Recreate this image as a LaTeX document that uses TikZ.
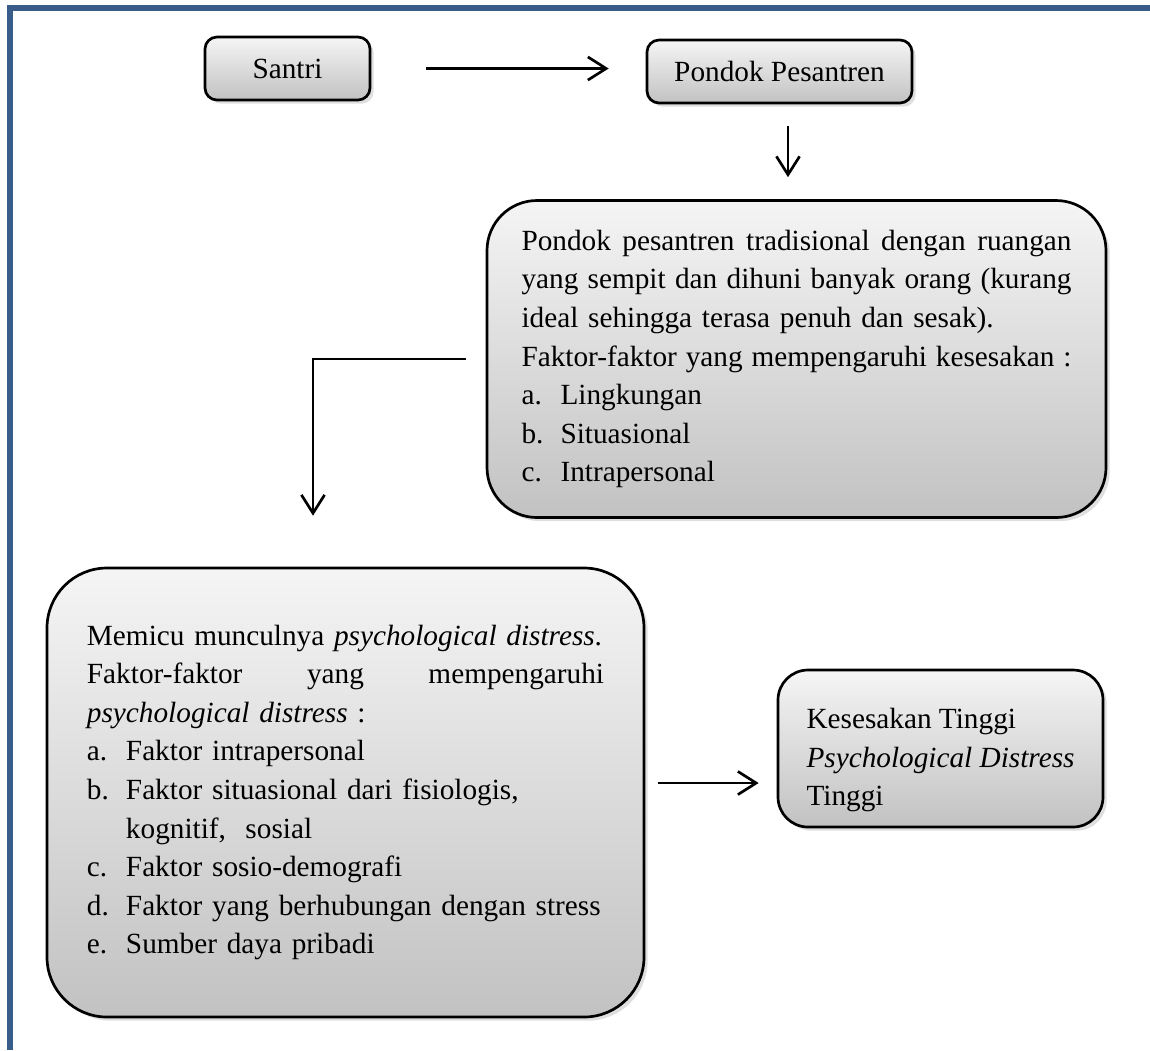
\documentclass[tikz,border=0pt]{standalone}
\usepackage{fontspec}
\setmainfont{Liberation Serif}
\usetikzlibrary{shadows}
\usetikzlibrary{positioning}
\usetikzlibrary{arrows.meta,calc}
\definecolor{framecol}{RGB}{56,93,138}
\def\px{0.41pt}
\tikzstyle{box}=[draw,line width=1.1pt,top color=black!4,bottom color=black!24,drop shadow={shadow xshift=1.5pt,shadow yshift=-1.5pt,opacity=0.25},inner sep=0pt,font=\fontsize{12}{15.8}\selectfont]
\tikzstyle{edge}=[draw,line width=1.1pt,-{Straight Barb[length=7.5pt,width=9.5pt,line width=1.1pt]}]
\newcommand{\itm}[1]{\makebox[16pt][l]{#1}}
\newcommand{\jline}[2]{\makebox[#1][s]{\spaceskip=0pt\relax #2}}

\begin{document}
\begin{tikzpicture}[x=\px,y=-\px]

   \def\twa{225.5pt}
   \def\twb{212pt}

% Frame
   \useasboundingbox (0,0) rectangle (1150,1050);
   \draw[framecol,line width=6*\px] (7,8) -- (1150,8);
   \draw[framecol,line width=6*\px] (9.8,5) -- (9.8,1050);

% Boxes
   \node[box,rounded corners=12*\px,minimum width=165*\px,minimum height=63*\px] (santri) at (287.5,68.5) {Santri};
   \node[box,rounded corners=12*\px,minimum width=265*\px,minimum height=63*\px] (pondok) at (779.5,71.5) {Pondok Pesantren};

   \node[box,rounded corners=50*\px,minimum width=619*\px,minimum height=317*\px,text width=\twa,align=left] (ppt) at (796.5,359) {%
      \jline{\twa}{Pondok pesantren tradisional dengan ruangan}\\
      \jline{\twa}{yang sempit dan dihuni banyak orang (kurang}\\
      ideal sehingga terasa penuh dan sesak).\\
      \jline{\twa}{Faktor-faktor yang mempengaruhi kesesakan :}\\
      \itm{a.}Lingkungan\\
      \itm{b.}Situasional\\
      \itm{c.}Intrapersonal};

   \node[box,rounded corners=60*\px,minimum width=597*\px,minimum height=449*\px,text width=\twb,align=left] (distress) at (345.5,792.5) {%
      Memicu munculnya \textit{psychological distress}.\\
      \jline{\twb}{Faktor-faktor yang mempengaruhi}\\
      \textit{psychological distress} :\\
      \itm{a.}Faktor intrapersonal\\
      \itm{b.}Faktor situasional dari fisiologis,\\
      \itm{}kognitif,~ sosial\\
      \itm{c.}Faktor sosio-demografi\\
      \itm{d.}Faktor yang berhubungan dengan stress\\
      \itm{e.}Sumber daya pribadi};

   \node[box,rounded corners=30*\px,minimum width=325*\px,minimum height=157*\px,align=left] (tinggi) at (940.5,748.5) {%
      \mbox{}\\[2.2pt]
      Kesesakan Tinggi\\
      \textit{Psychological Distress}\\
      Tinggi};

% Edges
   \path[edge,shorten <=55*\px,shorten >=37*\px] (santri.east) -- (santri.east -| pondok.west);
   \path[edge,shorten <=22*\px,shorten >=22*\px] ([xshift=8.5*\px]pondok.south) -- ([xshift=8.5*\px]pondok.south |- ppt.north);
   \coordinate (bend) at ([xshift=-20*\px]ppt.west);
   \path[edge,shorten >=51*\px] (bend) -| ([xshift=-32.5*\px]distress.north);
   \coordinate (out) at ([yshift=9.5*\px]distress.east);
   \path[edge,shorten <=13*\px,shorten >=18*\px] (out) -- (out -| tinggi.west);

\end{tikzpicture}
\end{document}
